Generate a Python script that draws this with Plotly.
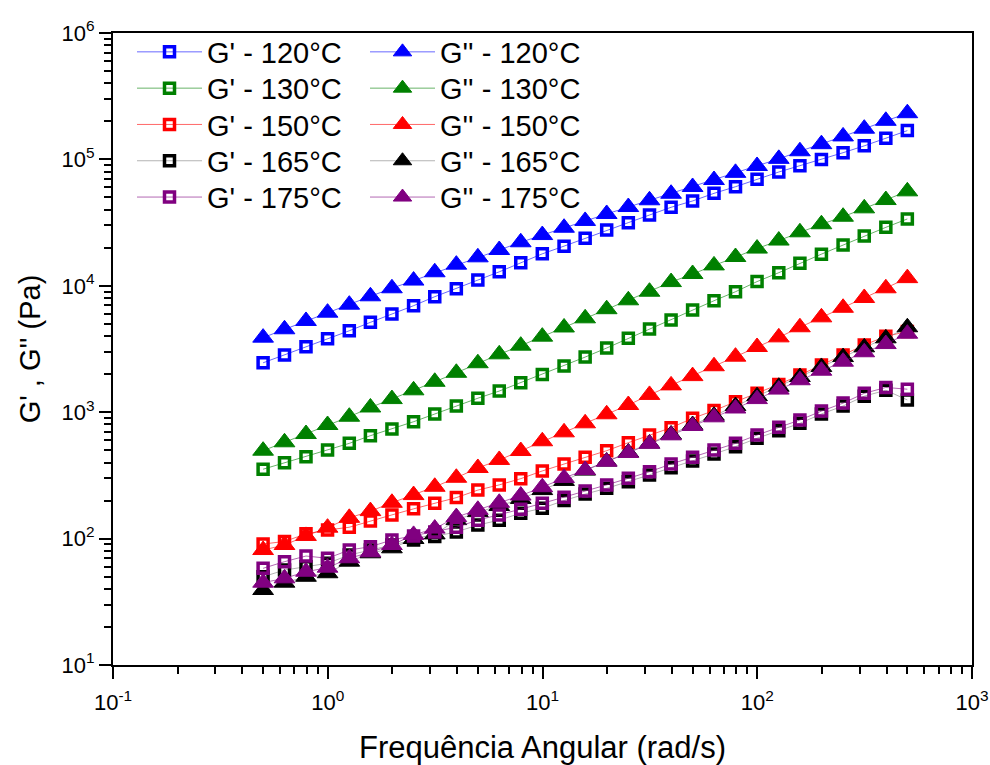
import plotly.graph_objects as go

# Angular frequency sweep (rad/s)
freq = [0.5, 0.629, 0.792, 0.998, 1.26, 1.58, 1.99, 2.51, 3.15, 3.97, 5.0,
        6.29, 7.92, 9.98, 12.6, 15.8, 19.9, 25.1, 31.5, 39.7, 50.0,
        62.9, 79.2, 99.8, 126, 158, 199, 251, 315, 397, 500]

# Storage modulus G' (Pa)
g1_120 = [2460, 2840, 3300, 3820, 4410, 5140, 5980, 6960, 8200, 9490, 11100,
          12900, 15200, 17900, 20600, 23800, 27600, 31600, 36300, 41800, 46900,
          53900, 60800, 69600, 79500, 89200, 100000, 113000, 128000, 147000, 169000]
g1_130 = [354, 399, 445, 502, 567, 652, 737, 841, 968, 1120, 1290,
          1470, 1710, 1990, 2320, 2730, 3220, 3840, 4550, 5360, 6440,
          7620, 8980, 10800, 12700, 15100, 17800, 21000, 24800, 29000, 33800]
g1_150 = [90.6, 94.9, 109, 117, 123, 138, 154, 172, 190, 211, 242,
          266, 298, 343, 389, 440, 496, 574, 660, 754, 895,
          1030, 1210, 1410, 1660, 1970, 2360, 2840, 3400, 3990, 4340]
g1_165 = [49.9, 56.4, 59.9, 63.8, 74.2, 81.2, 89.0, 97.5, 104, 113, 128,
          140, 159, 174, 200, 225, 250, 282, 319, 364, 411,
          467, 534, 622, 714, 817, 968, 1120, 1340, 1490, 1250]
g1_175 = [58.2, 65.7, 72.8, 69.9, 81.2, 86.3, 97.5, 105, 113, 123, 140,
          154, 171, 190, 212, 238, 266, 300, 338, 389, 440,
          502, 567, 660, 760, 868, 1020, 1180, 1410, 1570, 1520]

# Loss modulus G'' (Pa)
g2_120 = [3890, 4530, 5270, 6130, 7090, 8260, 9560, 11000, 12800, 14700, 16800,
          19200, 22100, 25200, 28800, 32600, 37000, 42000, 47500, 53500, 60500,
          68700, 78300, 88700, 101000, 116000, 132000, 152000, 175000, 202000, 232000]
g2_130 = [496, 578, 672, 792, 921, 1090, 1270, 1490, 1740, 2050, 2440,
          2870, 3360, 3960, 4680, 5530, 6530, 7680, 8980, 10700, 12400,
          14500, 16900, 19700, 22800, 26500, 30700, 35200, 41000, 47700, 55900]
g2_150 = [81.2, 89.0, 105, 122, 146, 165, 192, 221, 257, 303, 362,
          419, 493, 589, 693, 817, 963, 1140, 1370, 1630, 1930,
          2310, 2750, 3280, 3910, 4700, 5630, 6700, 8010, 9560, 11500]
g2_165 = [39.2, 44.8, 49.9, 53.2, 65.7, 76.5, 83.8, 99.3, 108, 140, 162,
          181, 206, 242, 286, 345, 407, 480, 565, 666, 792,
          938, 1120, 1340, 1590, 1900, 2280, 2730, 3260, 3840, 4700]
g2_175 = [44.8, 48.5, 54.7, 58.9, 69.9, 78.0, 89.0, 107, 120, 148, 169,
          192, 219, 255, 302, 349, 406, 476, 563, 656, 778,
          911, 1070, 1270, 1510, 1790, 2130, 2510, 2980, 3460, 4180]

temps = ["120°C", "130°C", "150°C", "165°C", "175°C"]
storage = [g1_120, g1_130, g1_150, g1_165, g1_175]
loss = [g2_120, g2_130, g2_150, g2_165, g2_175]
marker_colors = ["#0000FF", "#008000", "#FF0000", "#000000", "#800080"]
line_colors = ["#0000FF", "#008000", "#FF0000", "#808080", "#800080"]

x_tickvals = [0.1, 1, 10, 100, 1000]
x_ticktext = ["10<sup>-1</sup>", "10<sup>0</sup>", "10<sup>1</sup>", "10<sup>2</sup>", "10<sup>3</sup>"]
y_tickvals = [10, 100, 1000, 1e4, 1e5, 1e6]
y_ticktext = ["10<sup>1</sup>", "10<sup>2</sup>", "10<sup>3</sup>", "10<sup>4</sup>", "10<sup>5</sup>", "10<sup>6</sup>"]

FONT = "Liberation Sans, Arial, sans-serif"
LEGEND_FONT = 29

# Page geometry (px) used to place the two legend columns row by row
PLOT_L, PLOT_R, PLOT_T, PLOT_B = 113, 972, 33, 665
COL_LEFT = [132, 365]          # left edge of each legend column
ROW_CENTER = [50.5, 86.8, 123.1, 159.4, 195.7]


def legend_box(col, row):
    x = (COL_LEFT[col] - PLOT_L) / (PLOT_R - PLOT_L)
    y = (PLOT_B - (ROW_CENTER[row] - 24)) / (PLOT_B - PLOT_T)
    return dict(x=x, y=y, xanchor="left", yanchor="top", visible=True,
                font=dict(family=FONT, size=LEGEND_FONT, color="black"),
                bgcolor="rgba(0,0,0,0)", itemwidth=65, borderwidth=0)


fig = go.Figure()
legends = {}
for k, (t, gp, gpp, mc, lc) in enumerate(zip(temps, storage, loss, marker_colors, line_colors)):
    id1 = "legend" if k == 0 else f"legend{2 * k + 1}"
    id2 = f"legend{2 * k + 2}"
    legends[id1] = legend_box(0, k)
    legends[id2] = legend_box(1, k)
    fig.add_trace(go.Scatter(
        x=freq, y=gp, mode="lines+markers", name=f"G' - {t}", legend=id1,
        showlegend=True,
        line=dict(color=lc, width=0.6),
        marker=dict(symbol="square-open", size=10, color=mc, line=dict(width=3.5, color=mc)),
    ))
    fig.add_trace(go.Scatter(
        x=freq, y=gpp, mode="lines+markers", name=f"G'' - {t}", legend=id2,
        showlegend=True,
        line=dict(color=lc, width=0.6),
        marker=dict(symbol="triangle-up", size=18, color=mc, line=dict(width=1, color=mc)),
    ))

axis_common = dict(
    type="log", showline=True, linecolor="black", linewidth=2, mirror=True,
    ticks="outside", ticklen=12, tickwidth=2, tickcolor="black",
    showgrid=False, zeroline=False, automargin=False,
    tickfont=dict(family=FONT, size=22, color="black"),
    minor=dict(ticks="outside", ticklen=7, tickwidth=1.5, tickcolor="black",
               dtick="D1", showgrid=False),
)

fig.update_layout(
    width=990, height=765,
    showlegend=True,
    margin=dict(l=PLOT_L, r=990 - PLOT_R, t=PLOT_T, b=765 - PLOT_B),
    plot_bgcolor="white", paper_bgcolor="white",
    font=dict(family=FONT, color="black"),
    xaxis=dict(axis_common, range=[-1, 3], tickmode="array",
               tickvals=x_tickvals, ticktext=x_ticktext, ticklabelstandoff=5,
               title=dict(text="Frequência Angular (rad/s)",
                          font=dict(family=FONT, size=31), standoff=22)),
    yaxis=dict(axis_common, range=[1, 6], tickmode="array",
               tickvals=y_tickvals, ticktext=y_ticktext,
               title=dict(text="G' , G'' (Pa)",
                          font=dict(family=FONT, size=29), standoff=12)),
    **legends,
)

fig.write_html("out.html")
